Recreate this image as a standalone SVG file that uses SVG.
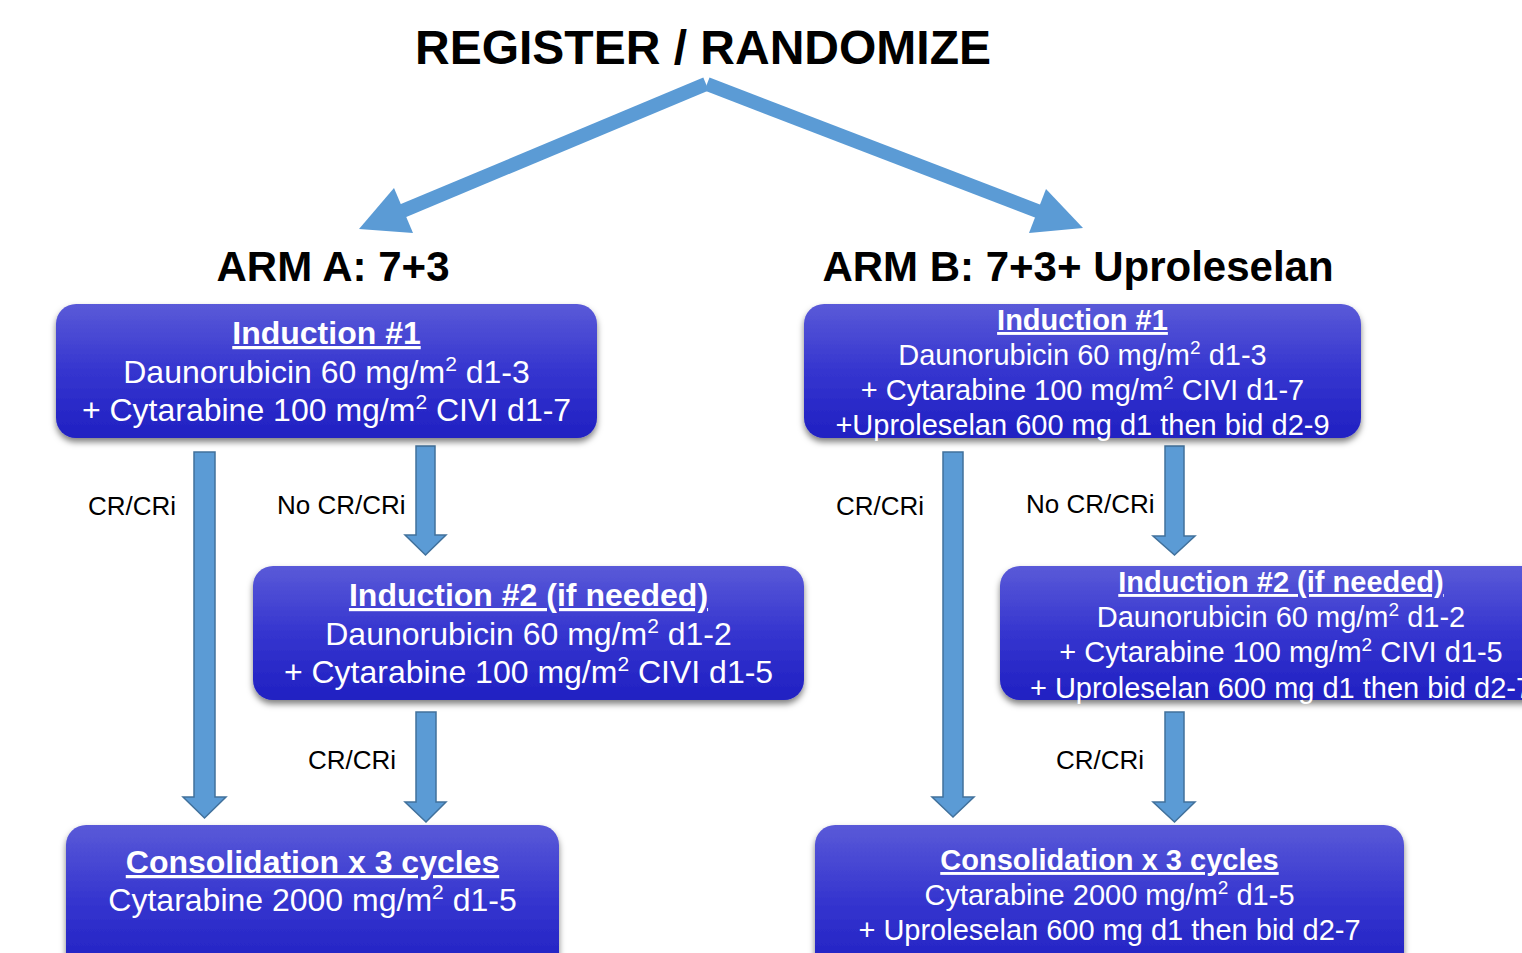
<svg xmlns="http://www.w3.org/2000/svg" width="1522" height="953" viewBox="0 0 1522 953">
  <defs>
    <linearGradient id="boxFill" x1="0" y1="0" x2="0" y2="1">
      <stop offset="0" stop-color="#5a5ad8"/>
      <stop offset="0.5" stop-color="#3535cf"/>
      <stop offset="1" stop-color="#2020c2"/>
    </linearGradient>
    <filter id="shadow" x="-5%" y="-10%" width="110%" height="130%">
      <feDropShadow dx="0" dy="4" stdDeviation="3" flood-color="#000" flood-opacity="0.5"/>
    </filter>
  </defs>
  <style>
    .box { fill: url(#boxFill); filter: url(#shadow); }
    .hdr { font-family: "Liberation Sans", Arial, sans-serif; font-weight: bold; fill: #000; text-anchor: middle; }
    .lbl { font-family: "Liberation Sans", Arial, sans-serif; font-size: 26px; fill: #000; }
    .txt { font-family: "Liberation Sans", Arial, sans-serif; fill: #fff; text-anchor: middle; }
    .ttl { font-weight: bold; text-decoration: underline; text-decoration-skip-ink: none; }
    .a { font-size: 32px; }
    .b { font-size: 29px; }
    .a .sup { font-size: 21px; }
    .b .sup { font-size: 19px; }
    .blk { fill: #5b9bd5; stroke: #41719c; stroke-width: 1.5; }
    .big { stroke: #5b9bd5; stroke-width: 14; fill: none; }
    .bighead { fill: #5b9bd5; }
  </style>

  <!-- headings -->
  <text class="hdr" x="703" y="64" font-size="48">REGISTER / RANDOMIZE</text>
  <text class="hdr" x="333" y="281" font-size="42">ARM A: 7+3</text>
  <text class="hdr" x="1078" y="281" font-size="42">ARM B: 7+3+ Uproleselan</text>

  <!-- connectors -->
  <g id="connectors">
    <line class="big" x1="706" y1="84" x2="400" y2="212"/>
    <polygon class="bighead" points="359,229 394,188 413,233"/>
    <line class="big" x1="707" y1="84" x2="1040" y2="212"/>
    <polygon class="bighead" points="1083,228 1046,189 1029,233"/>

    <polygon class="blk" points="194,452 215,452 215,797 226,797 204.5,818 183,797 194,797"/>
    <polygon class="blk" points="416,446 435,446 435,535 446,535 425.5,555 405,535 416,535"/>
    <polygon class="blk" points="416,712 436,712 436,802 446,802 426,822 405,802 416,802"/>
    <polygon class="blk" points="943,452 963,452 963,797 974,797 953,817 932,797 943,797"/>
    <polygon class="blk" points="1165,446 1184,446 1184,536 1195,536 1174.5,555 1153,536 1165,536"/>
    <polygon class="blk" points="1165,712 1184,712 1184,802 1195,802 1174.5,822 1153,802 1165,802"/>

    <text class="lbl" x="88" y="515">CR/CRi</text>
    <text class="lbl" x="277" y="514">No CR/CRi</text>
    <text class="lbl" x="308" y="769">CR/CRi</text>
    <text class="lbl" x="836" y="515">CR/CRi</text>
    <text class="lbl" x="1026" y="513">No CR/CRi</text>
    <text class="lbl" x="1056" y="769">CR/CRi</text>
  </g>

  <!-- Arm A -->
  <g id="a-induction1">
    <rect class="box" x="56" y="304" width="541" height="134" rx="20"/>
    <g class="txt a">
      <text class="ttl" x="326.5" y="344">Induction #1</text>
      <text x="326.5" y="383">Daunorubicin 60 mg/m<tspan class="sup" dy="-12">2</tspan><tspan dy="12"> d1-3</tspan></text>
      <text x="326.5" y="421">+ Cytarabine 100 mg/m<tspan class="sup" dy="-12">2</tspan><tspan dy="12"> CIVI d1-7</tspan></text>
    </g>
  </g>

  <g id="a-induction2">
    <rect class="box" x="253" y="566" width="551" height="134" rx="20"/>
    <g class="txt a">
      <text class="ttl" x="528.5" y="606">Induction #2 (if needed)</text>
      <text x="528.5" y="645">Daunorubicin 60 mg/m<tspan class="sup" dy="-12">2</tspan><tspan dy="12"> d1-2</tspan></text>
      <text x="528.5" y="683">+ Cytarabine 100 mg/m<tspan class="sup" dy="-12">2</tspan><tspan dy="12"> CIVI d1-5</tspan></text>
    </g>
  </g>

  <g id="a-consolidation">
    <rect class="box" x="66" y="825" width="493" height="150" rx="20"/>
    <g class="txt a">
      <text class="ttl" x="312.5" y="873">Consolidation x 3 cycles</text>
      <text x="312.5" y="911">Cytarabine 2000 mg/m<tspan class="sup" dy="-12">2</tspan><tspan dy="12"> d1-5</tspan></text>
    </g>
  </g>

  <!-- Arm B -->
  <g id="b-induction1">
    <rect class="box" x="804" y="304" width="557" height="134" rx="20"/>
    <g class="txt b">
      <text class="ttl" x="1082.5" y="330">Induction #1</text>
      <text x="1082.5" y="365">Daunorubicin 60 mg/m<tspan class="sup" dy="-11">2</tspan><tspan dy="11"> d1-3</tspan></text>
      <text x="1082.5" y="400">+ Cytarabine 100 mg/m<tspan class="sup" dy="-11">2</tspan><tspan dy="11"> CIVI d1-7</tspan></text>
      <text x="1082.5" y="435">+Uproleselan 600 mg d1 then bid d2-9</text>
    </g>
  </g>

  <!-- this box runs past the right edge of the page -->
  <g id="b-induction2">
    <rect class="box" x="1000" y="566" width="545" height="134" rx="20"/>
    <g class="txt b">
      <text class="ttl" x="1281" y="592">Induction #2 (if needed)</text>
      <text x="1281" y="627">Daunorubicin 60 mg/m<tspan class="sup" dy="-11">2</tspan><tspan dy="11"> d1-2</tspan></text>
      <text x="1281" y="662">+ Cytarabine 100 mg/m<tspan class="sup" dy="-11">2</tspan><tspan dy="11"> CIVI d1-5</tspan></text>
      <text x="1281" y="698">+ Uproleselan 600 mg d1 then bid d2-7</text>
    </g>
  </g>

  <g id="b-consolidation">
    <rect class="box" x="815" y="825" width="589" height="150" rx="20"/>
    <g class="txt b">
      <text class="ttl" x="1109.5" y="870">Consolidation x 3 cycles</text>
      <text x="1109.5" y="905">Cytarabine 2000 mg/m<tspan class="sup" dy="-11">2</tspan><tspan dy="11"> d1-5</tspan></text>
      <text x="1109.5" y="940">+ Uproleselan 600 mg d1 then bid d2-7</text>
    </g>
  </g>
</svg>
